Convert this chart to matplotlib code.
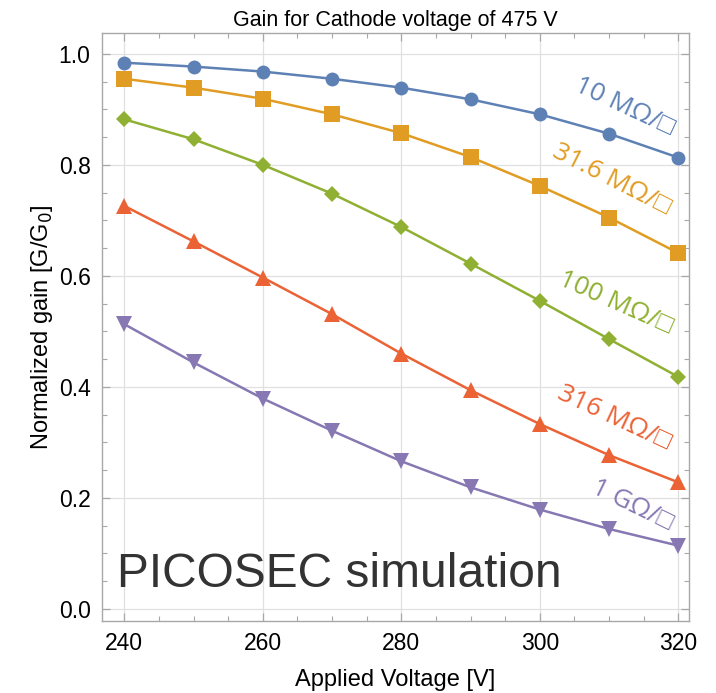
#!/usr/bin/env python
import matplotlib

matplotlib.use("Agg")

import matplotlib.pyplot as plt
from matplotlib.ticker import MultipleLocator

# applied voltage scan [V]
voltage = [240, 250, 260, 270, 280, 290, 300, 310, 320]

# normalized gain G/G0 for each resistive layer
gain_10M = [0.984, 0.977, 0.968, 0.955, 0.939, 0.918, 0.891, 0.856, 0.813]
gain_31M = [0.955, 0.939, 0.919, 0.891, 0.857, 0.814, 0.762, 0.705, 0.641]
gain_100M = [0.882, 0.846, 0.800, 0.748, 0.688, 0.622, 0.555, 0.486, 0.418]
gain_316M = [0.726, 0.662, 0.597, 0.531, 0.460, 0.394, 0.333, 0.277, 0.228]
gain_1G = [0.513, 0.444, 0.379, 0.321, 0.266, 0.219, 0.179, 0.144, 0.114]

labels = ["10 MΩ/□", "31.6 MΩ/□", "100 MΩ/□", "316 MΩ/□", "1 GΩ/□"]

series = [
    (gain_10M, "#5e81b5", "o", 10.0, (312.2, 0.904, -25)),
    (gain_31M, "#e19c24", "s", 11.5, (310.3, 0.773, -27)),
    (gain_100M, "#8fb032", "D", 7.8, (310.9, 0.551, -24)),
    (gain_316M, "#eb6235", "^", 12.0, (310.7, 0.344, -25)),
    (gain_1G, "#8778b3", "v", 12.0, (313.3, 0.186, -26)),
]

plt.rcParams["font.family"] = ["Liberation Sans", "DejaVu Sans"]

fig = plt.figure(figsize=(7.16, 6.93), dpi=100)
ax = fig.add_axes([0.142, 0.104, 0.820, 0.848])

for (values, color, marker, msize, (tx, ty, rot)), label in zip(series, labels):
    ax.plot(voltage, values, color=color, lw=1.8, marker=marker, markersize=msize,
            markeredgewidth=0, zorder=3)
    ax.text(tx, ty, label, color=color, fontsize=19, rotation=rot,
            ha="center", va="center", rotation_mode="anchor",
            family=["Open Sans", "Liberation Sans", "DejaVu Sans"], zorder=4)

ax.set_xlim(236.74, 321.5)
ax.set_ylim(-0.0216, 1.037)
ax.xaxis.set_major_locator(MultipleLocator(20))
ax.xaxis.set_minor_locator(MultipleLocator(5))
ax.yaxis.set_major_locator(MultipleLocator(0.2))
ax.yaxis.set_minor_locator(MultipleLocator(0.05))
ax.yaxis.set_major_formatter(matplotlib.ticker.FormatStrFormatter("%.1f"))

ax.grid(True, which="major", color="#e0e0e0", lw=0.9, zorder=0)
for spine in ax.spines.values():
    spine.set_color("#a8a8a8")
    spine.set_linewidth(1.0)
ax.tick_params(which="both", direction="in", top=True, right=True, color="#a8a8a8",
               labelsize=16.5, labelcolor="black")
ax.tick_params(which="major", length=6, width=0.9, pad=8)
ax.tick_params(which="minor", length=3.5, width=0.8)

ax.set_title("Gain for Cathode voltage of 475 V", fontsize=15.5, pad=5)
ax.set_xlabel("Applied Voltage [V]", fontsize=17, labelpad=10)
ax.set_ylabel("Normalized gain [G/G$_0$]", fontsize=17, labelpad=3)

ax.text(239.0, 0.04, "PICOSEC simulation", fontsize=34.5, color="#333333",
        ha="left", va="baseline", zorder=4)

fig.savefig("out.png", dpi=100)
